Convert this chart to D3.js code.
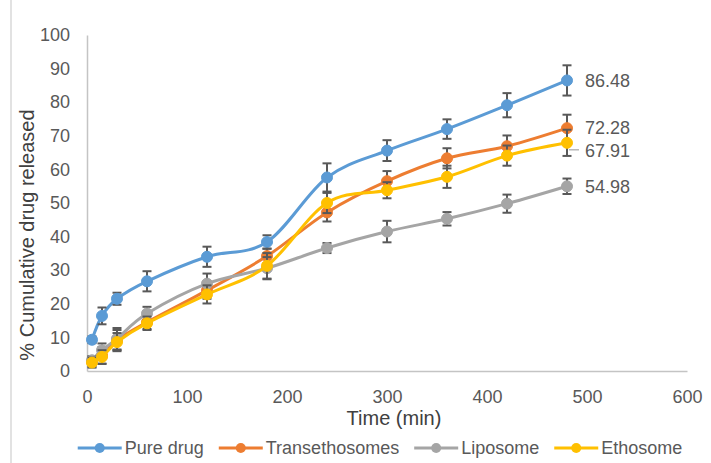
<!DOCTYPE html>
<html>
<head>
<meta charset="utf-8">
<script src="https://cdn.jsdelivr.net/npm/d3@7"></script>
<style>
  html, body { margin: 0; padding: 0; background: #fff; }
  svg { display: block; font-family: "Liberation Sans", Arial, sans-serif; }
</style>
</head>
<body>
<svg id="chart" width="711" height="463"></svg>
<script>
// ---------- data ----------
const timePoints = [5, 15, 30, 60, 120, 180, 240, 300, 360, 420, 480];
const pureDrug       = [9.3, 16.4, 21.5, 26.7, 34.0, 38.4, 57.6, 65.6, 72.0, 79.1, 86.48];
const pureDrugErr    = [1.0, 2.5, 1.8, 3.0, 3.0, 2.0, 4.2, 3.1, 2.9, 3.6, 4.5];
const transethosomes = [2.8, 4.6, 9.2, 14.5, 24.0, 34.2, 47.2, 56.5, 63.3, 66.9, 72.28];
const transethosomesErr = [1.5, 2.5, 3.0, 2.0, 2.5, 2.2, 2.7, 3.0, 3.0, 3.2, 4.0];
const liposome       = [3.2, 6.2, 9.6, 17.1, 26.0, 30.6, 36.6, 41.5, 45.3, 49.8, 54.98];
const liposomeErr    = [1.2, 2.0, 3.2, 2.0, 3.0, 3.3, 1.5, 3.2, 2.0, 2.7, 2.3];
const ethosome       = [2.5, 4.2, 8.6, 14.2, 22.8, 31.3, 50.0, 53.8, 57.8, 64.1, 67.91];
const ethosomeErr    = [1.5, 2.0, 2.7, 2.0, 2.7, 3.8, 3.0, 2.4, 3.3, 3.0, 3.9];

const seriesNames  = ["Pure drug", "Transethosomes", "Liposome", "Ethosome"];
const seriesValues = [pureDrug, transethosomes, liposome, ethosome];
const seriesErrors = [pureDrugErr, transethosomesErr, liposomeErr, ethosomeErr];
const seriesColors = ["#5B9BD5", "#ED7D31", "#A5A5A5", "#FFC000"];
const endLabels    = ["86.48", "72.28", "54.98", "67.91"];

const xTicks = [0, 100, 200, 300, 400, 500, 600];
const yTicks = [0, 10, 20, 30, 40, 50, 60, 70, 80, 90, 100];
const xTitle = "Time (min)";
const yTitle = "% Cumulative drug released";

// ---------- layout ----------
const svg = d3.select("#chart");
const x = d3.scaleLinear().domain([0, 600]).range([87, 687]);
const y = d3.scaleLinear().domain([0, 100]).range([371, 35]);

// chart-area border (left edge visible)
svg.append("line").attr("x1", 11).attr("x2", 11).attr("y1", 0).attr("y2", 463)
  .attr("stroke", "#d9d9d9").attr("stroke-width", 1.5);

// axes
const xAxis = svg.append("g").attr("transform", `translate(0,${y(0)})`)
  .call(d3.axisBottom(x).tickValues(xTicks).tickSize(0).tickPadding(19));
const yAxis = svg.append("g").attr("transform", `translate(${x(0)},0)`)
  .call(d3.axisLeft(y).tickValues(yTicks).tickSize(0).tickPadding(17));
[xAxis, yAxis].forEach(g => {
  g.select(".domain").attr("stroke", "#c4c4c4").attr("stroke-width", 1.5);
  g.selectAll("text").attr("fill", "#595959").attr("font-size", 18)
    .attr("font-family", "'Liberation Sans', Arial, sans-serif");
});

// axis titles
svg.append("text").attr("x", 394).attr("y", 418).attr("dy", "0.35em")
  .attr("text-anchor", "middle").attr("font-size", 20).attr("fill", "#404040").text(xTitle);
svg.append("text").attr("transform", "translate(27,235) rotate(-90)").attr("dy", "0.35em")
  .attr("text-anchor", "middle").attr("font-size", 20).attr("fill", "#404040").text(yTitle);

// series
const line = d3.line().x((d, i) => x(timePoints[i])).y(d => y(d)).curve(d3.curveCardinal.tension(0));
seriesValues.forEach((vals, s) => {
  const g = svg.append("g");
  g.append("path").datum(vals).attr("d", line).attr("fill", "none")
    .attr("stroke", seriesColors[s]).attr("stroke-width", 3).attr("stroke-linejoin", "round");
  const errs = seriesErrors[s];
  const eb = g.append("g").attr("stroke", "#595959").attr("stroke-width", 2);
  vals.forEach((v, i) => {
    const cx = x(timePoints[i]);
    const y1 = y(v + errs[i]), y2 = y(v - errs[i]);
    eb.append("line").attr("x1", cx).attr("x2", cx).attr("y1", y1).attr("y2", y2);
    eb.append("line").attr("x1", cx - 4.5).attr("x2", cx + 4.5).attr("y1", y1).attr("y2", y1);
    eb.append("line").attr("x1", cx - 4.5).attr("x2", cx + 4.5).attr("y1", y2).attr("y2", y2);
  });
  g.selectAll("circle").data(vals).join("circle")
    .attr("cx", (d, i) => x(timePoints[i])).attr("cy", d => y(d)).attr("r", 5.5)
    .attr("fill", seriesColors[s]).attr("stroke", seriesColors[s]).attr("stroke-width", 1);
});

// end labels
seriesValues.forEach((vals, s) => {
  const last = vals[vals.length - 1];
  const px = x(timePoints[timePoints.length - 1]);
  let py = y(last);
  if (s === 3) {
    py += 8;
    svg.append("line").attr("x1", px + 2).attr("x2", px + 12).attr("y1", py - 1).attr("y2", py - 1)
      .attr("stroke", "#a5a5a5").attr("stroke-width", 1.2);
  }
  svg.append("text").attr("x", px + 18).attr("y", py).attr("dy", "0.35em")
    .attr("font-size", 18).attr("fill", "#595959").text(endLabels[s]);
});

// legend
const legend = svg.append("g");
let cursor = 0;
seriesNames.forEach((name, s) => {
  const item = legend.append("g").attr("transform", `translate(${cursor},0)`);
  item.append("line").attr("x1", 0).attr("x2", 44).attr("y1", 0).attr("y2", 0)
    .attr("stroke", seriesColors[s]).attr("stroke-width", 3);
  item.append("circle").attr("cx", 22).attr("cy", 0).attr("r", 5).attr("fill", seriesColors[s]);
  const t = item.append("text").attr("x", 47).attr("y", 0).attr("dy", "0.35em")
    .attr("font-size", 18).attr("fill", "#595959").text(name);
  cursor += 47 + t.node().getComputedTextLength() + 15;
});
const legendWidth = cursor - 15;
legend.attr("transform", `translate(${380 - legendWidth / 2},448)`);
</script>
</body>
</html>
